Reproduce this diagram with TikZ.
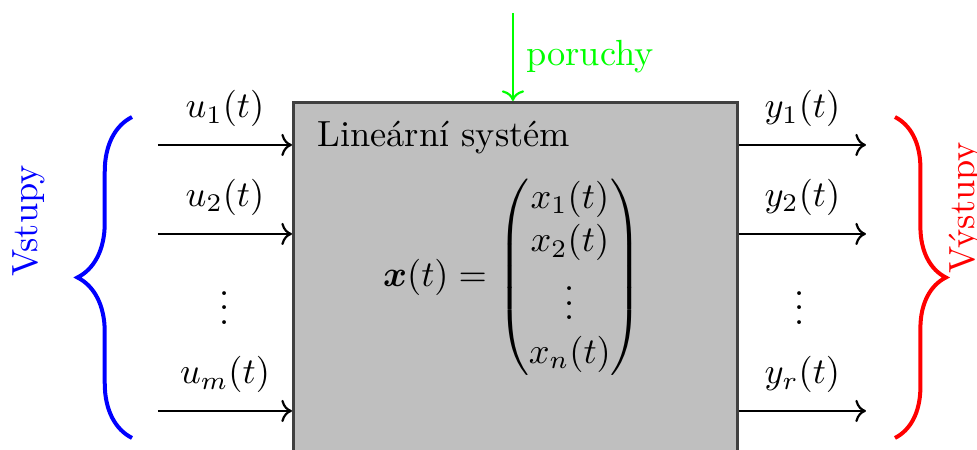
\documentclass[tikz,border=0pt]{standalone}
\usepackage{fontspec}
\usepackage{amsmath, amssymb}
\usepackage{tikz}
\usetikzlibrary{positioning, arrows.meta, decorations.pathreplacing}

\begin{document}
\begin{tikzpicture}[
  sysbox/.style={draw=black!75, thick, fill=gray!50, anchor=north west,
                 minimum width=4.291cm, minimum height=4cm},
  sig/.style={->, semithick},
  lbl/.style={midway, above=1.4pt},
  brc/.style={decorate, decoration={brace, amplitude=#1}, line width=1.1pt},
  side/.style={rotate=90, anchor=base}
]
\clip (0,0) rectangle (9.443,4.349);

% linear system block
\node[sysbox] (sys) at (2.822,3.373) {};
\node[anchor=north west, xshift=3.5pt, yshift=-1.9pt] (title) at (sys.north west) {Lineární systém};
\node (state) at (4.958,1.672)
  {$\boldsymbol{x}(t) = \begin{pmatrix} x_1(t)\\ x_2(t)\\ \vdots\\ x_n(t) \end{pmatrix}$};

% inputs and outputs
\foreach \k/\yy/\ulab/\ylab in {1/2.948/u_1/y_1, 2/2.088/u_2/y_2, m/0.377/u_m/y_r} {
  \coordinate (in\k) at (1.527,\yy);
  \coordinate (out\k) at (8.370,\yy);
  \draw[sig] (in\k) -- (in\k -| sys.west) node[lbl] {$\ulab(t)$};
  \draw[sig] (out\k -| sys.east) -- (out\k) node[lbl] {$\ylab(t)$};
}
\node (indots)  at (2.175,1.479) {$\vdots$};
\node (outdots) at (7.732,1.479) {$\vdots$};

% disturbance
\coordinate (dist) at (4.958,4.224);
\draw[sig, green] (dist) -- (dist |- sys.north) node[midway, right] {poruchy};

% braces
\draw[brc=15pt, blue] (1.276,0.116) -- (1.276,3.218);
\node[side, blue] (inlab) at (0.358,2.213) {Vstupy};
\draw[brc=14pt, red] (8.650,3.218) -- (8.650,0.116);
\node[side, red] (outlab) at (9.420,2.339) {Výstupy};
\end{tikzpicture}
\end{document}
